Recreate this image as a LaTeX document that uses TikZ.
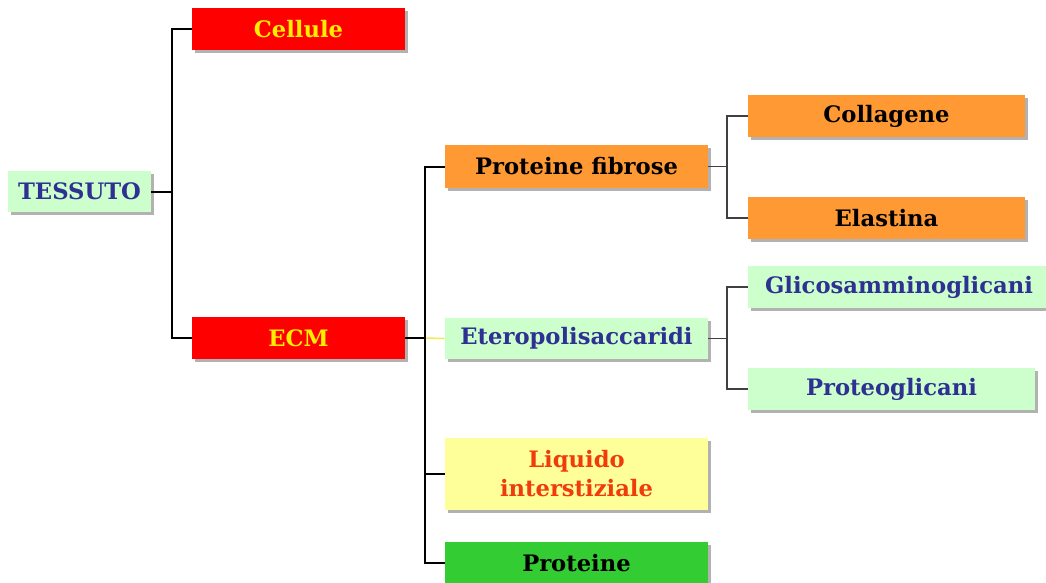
\documentclass[tikz,border=0pt]{standalone}
\usepackage{fontspec}
\setmainfont{DejaVu Serif}
\usetikzlibrary{shadows}
\definecolor{cred}{HTML}{FF0000}
\definecolor{cyel}{HTML}{FFEE00}
\definecolor{corange}{HTML}{FF9933}
\definecolor{clgreen}{HTML}{CCFFCC}
\definecolor{cblue}{HTML}{2E3192}
\definecolor{cpaley}{HTML}{FFFF99}
\definecolor{cliqtext}{HTML}{F03C0C}
\definecolor{cgreen}{HTML}{33CC33}
\definecolor{clink}{HTML}{F2EA50}
\tikzset{
  box/.style={rectangle, inner sep=0pt, align=center,
    font=\bfseries\fontsize{17}{21.75}\selectfont,
    drop shadow={shadow xshift=2pt, shadow yshift=-2pt, fill=black, opacity=0.3}},
  redbox/.style={box, fill=cred, text=cyel},
  orangebox/.style={box, fill=corange, text=black},
  greenbox/.style={box, fill=clgreen, text=cblue},
  liqbox/.style={box, fill=cpaley, text=cliqtext},
  protbox/.style={box, fill=cgreen, text=black},
  mainline/.style={line width=1.5pt, black},
  subline/.style={line width=0.9pt, black!75},
  paleline/.style={line width=1.1pt, clink}
}
\begin{document}
\begin{tikzpicture}[x=0.75pt, y=-0.75pt]
\useasboundingbox (0,0) rectangle (1046,582);
\fill[white] (0,0) rectangle (1046,582);

\node[redbox, minimum width=159.75pt, minimum height=31.5pt] (cell) at (298.5,29) {Cellule};
\node[greenbox, minimum width=107.25pt, minimum height=30.75pt] (tess) at (79.5,191.5) {TESSUTO};
\node[redbox, minimum width=159.75pt, minimum height=31.5pt] (ecm) at (298.5,338) {ECM};

\node[orangebox, minimum width=197.25pt, minimum height=32.25pt] (pf) at (576.5,166.5) {Proteine fibrose};
\node[orangebox, minimum width=207.75pt, minimum height=31.5pt] (coll) at (886.5,116) {Collagene};
\node[orangebox, minimum width=207.75pt, minimum height=31.5pt] (elas) at (886.5,218) {Elastina};

\node[greenbox, minimum width=197.25pt, minimum height=30.75pt] (etero) at (576.5,338.5) {Eteropolisaccaridi};
\node[greenbox, minimum width=226.5pt, minimum height=31.5pt] (glico) at (899,287) {Glicosamminoglicani};
\node[greenbox, minimum width=215.25pt, minimum height=31.5pt] (ptg) at (891.5,389) {Proteoglicani};

\node[liqbox, minimum width=197.25pt, minimum height=54pt] (liq) at (576.5,474) {Liquido\\interstiziale};
\node[protbox, minimum width=197.25pt, minimum height=31.5pt] (prot) at (576.5,563) {Proteine};

\coordinate (b1) at (172,0);
\coordinate (b2) at (425,0);
\coordinate (b3) at (727,0);

% TESSUTO branches
\draw[mainline] (tess.east) -- (tess.east -| b1);
\draw[mainline] (cell.west) -- (cell.west -| b1) -- (ecm.west -| b1) -- (ecm.west);

% ECM branches
\draw[mainline] (ecm.east) -- (ecm.east -| b2);
\draw[paleline] (ecm.east -| b2) -- (etero.west);
\draw[mainline] (pf.west) -- (pf.west -| b2) -- (prot.west -| b2) -- (prot.west);
\draw[mainline] (liq.west -| b2) -- (liq.west);

% Proteine fibrose branches
\draw[subline] (pf.east) -- (pf.east -| b3);
\draw[subline] (coll.west) -- (coll.west -| b3) -- (elas.west -| b3) -- (elas.west);

% Eteropolisaccaridi branches
\draw[subline] (etero.east) -- (etero.east -| b3);
\draw[subline] (glico.west) -- (glico.west -| b3) -- (ptg.west -| b3) -- (ptg.west);
\end{tikzpicture}
\end{document}
